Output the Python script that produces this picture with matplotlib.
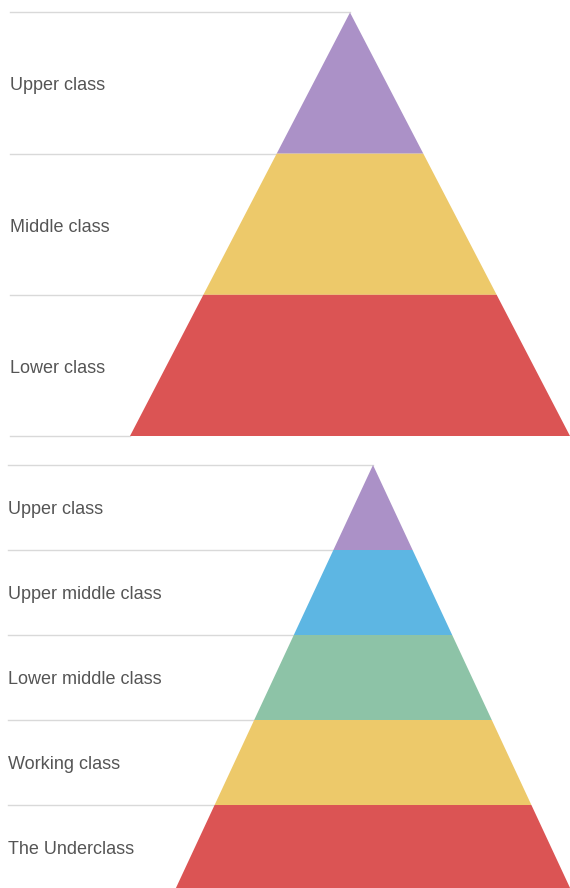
import numpy as np
import matplotlib.pyplot as plt
from matplotlib.patches import Polygon

# top pyramid
top_labels = ["Upper class", "Middle class", "Lower class"]
top_values = [1, 1, 1]
top_colors = ["#ab91c7", "#edc96a", "#db5454"]

# bottom pyramid
bot_labels = ["Upper class", "Upper middle class", "Lower middle class",
              "Working class", "The Underclass"]
bot_values = [1, 1, 1, 1, 1]
bot_colors = ["#ab91c7", "#5db6e3", "#8dc3a7", "#edc96a", "#db5454"]

W, H = 570, 888
fig = plt.figure(figsize=(W / 100, H / 100), dpi=100)
plt.rcParams['font.family'] = ['Liberation Sans', 'DejaVu Sans']


def pyramid(top_px, bot_px, cx, half_base, labels, values, colors, left_px):
    # axes covers full width, y from apex to base (pixels)
    ax = fig.add_axes([0, 1 - bot_px / H, 1, (bot_px - top_px) / H])
    total = sum(values)
    edges = np.concatenate([[0], np.cumsum(values)])
    # x in units of base half width, centre at 0
    xmin = -cx / half_base
    xmax = (W - cx) / half_base
    ax.set_xlim(xmin, xmax)
    ax.set_ylim(total, 0)
    ax.axis('off')
    x_lab = xmin + left_px / half_base
    for i in range(len(values)):
        y0, y1 = edges[i], edges[i + 1]
        w0, w1 = y0 / total, y1 / total
        poly = Polygon([(-w0, y0), (w0, y0), (w1, y1), (-w1, y1)],
                       closed=True, facecolor=colors[i], edgecolor='none',
                       clip_on=False)
        ax.add_patch(poly)
        ax.text(x_lab, (y0 + y1) / 2 + 0.02, labels[i], fontsize=13,
                color='#555555', va='center', ha='left')
    for j, y in enumerate(edges):
        if j == len(edges) - 1 and bot_px > H:
            continue
        ax.plot([x_lab, -y / total], [y, y], color='#d9d9d9', lw=1,
                clip_on=False, zorder=0)
    return ax


pyramid(12.5, 436, 350, 220, top_labels, top_values, top_colors, 10)
pyramid(465, 890, 373, 198, bot_labels, bot_values, bot_colors, 8)

fig.savefig("out.png", dpi=100, facecolor='white')
